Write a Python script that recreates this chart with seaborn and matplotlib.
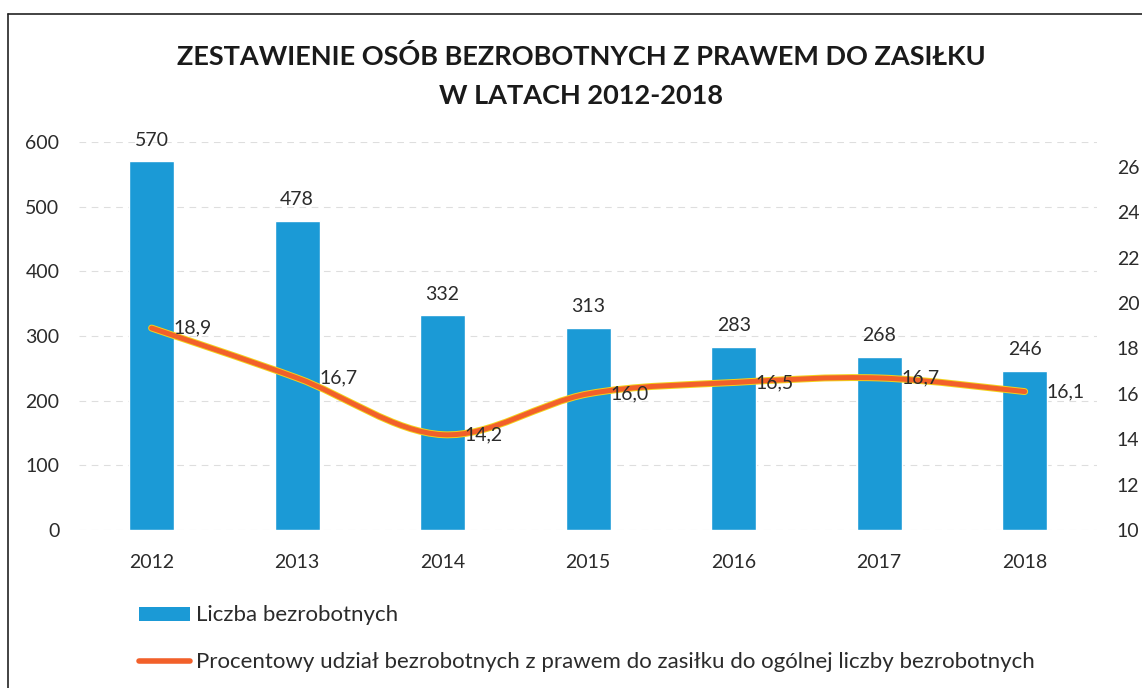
import matplotlib
matplotlib.use('Agg')
import matplotlib.pyplot as plt
from matplotlib.path import Path
from matplotlib.patches import PathPatch, Patch
from matplotlib.lines import Line2D
import seaborn as sns
import pandas as pd

years = ['2012', '2013', '2014', '2015', '2016', '2017', '2018']
unemployed = [570, 478, 332, 313, 283, 268, 246]
share_pct = [18.9, 16.7, 14.2, 16.0, 16.5, 16.7, 16.1]

bar_label = 'Liczba bezrobotnych'
line_label = 'Procentowy udział bezrobotnych z prawem do zasiłku do ogólnej liczby bezrobotnych'
title_1 = 'ZESTAWIENIE OSÓB BEZROBOTNYCH Z PRAWEM DO ZASIŁKU'
title_2 = 'W LATACH 2012-2018'

blue = '#1B9AD6'
orange = '#F2602A'
text_col = '#2b2b2b'

sns.set_style('white')
plt.rcParams['font.family'] = ['Lato', 'DejaVu Sans']

fig = plt.figure(figsize=(11.42, 6.88), dpi=100)
ax = fig.add_axes([0.069, 0.2297, 0.892, 0.5639])

df = pd.DataFrame({'Rok': years, 'Liczba': unemployed})
sns.barplot(data=df, x='Rok', y='Liczba', color=blue, saturation=1, width=0.31, ax=ax)
ax.set_ylim(0, 600)
ax.set_yticks(range(0, 601, 100))
ax.set_xlim(-0.5, len(years) - 0.5)
ax.set_xlabel('')
ax.set_ylabel('')
ax.grid(axis='y', color='#dedede', linestyle=(0, (6, 5)), linewidth=0.8)
ax.set_axisbelow(True)
for s in ax.spines.values():
    s.set_visible(False)
ax.tick_params(axis='y', length=0, pad=14, labelsize=14, labelcolor=text_col)
ax.tick_params(axis='x', length=0, pad=17, labelsize=14, labelcolor=text_col)

for i, v in enumerate(unemployed):
    ax.annotate(str(v), (i, v), xytext=(0, 9), textcoords='offset points',
                ha='center', va='bottom', fontsize=14, color=text_col,
                annotation_clip=False)

# secondary axis with smoothed line
ax2 = ax.twinx()
ax2.set_ylim(10, 27.1)
ax2.set_yticks(range(10, 27, 2))
for s in ax2.spines.values():
    s.set_visible(False)
ax2.tick_params(axis='y', length=0, pad=14, labelsize=14, labelcolor=text_col)
ax2.grid(False)

xs = list(range(len(share_pct)))
pts = list(zip(xs, share_pct))
verts = [pts[0]]
codes = [Path.MOVETO]
for i in range(len(pts) - 1):
    p0 = pts[i - 1] if i > 0 else pts[i]
    p1 = pts[i]
    p2 = pts[i + 1]
    p3 = pts[i + 2] if i + 2 < len(pts) else pts[i + 1]
    c1 = (p1[0] + (p2[0] - p0[0]) / 6, p1[1] + (p2[1] - p0[1]) / 6)
    c2 = (p2[0] - (p3[0] - p1[0]) / 6, p2[1] - (p3[1] - p1[1]) / 6)
    verts += [c1, c2, p2]
    codes += [Path.CURVE4] * 3
curve = Path(verts, codes)
ax2.add_patch(PathPatch(curve, facecolor='none', edgecolor='#F3D21B', lw=5.0, capstyle='round', zorder=3))
ax2.add_patch(PathPatch(curve, facecolor='none', edgecolor=orange, lw=3.6, capstyle='round', zorder=4))

for x, v in zip(xs, share_pct):
    ax2.annotate(f'{v:.1f}'.replace('.', ','), (x, v), xytext=(16, 0), textcoords='offset points',
                 ha='left', va='center', fontsize=14, color=text_col, zorder=5)

# title
fig.text(0.509, 0.918, title_1, ha='center', va='center', fontsize=19.5, fontweight='bold',
         color='#1a1a1a')
fig.text(0.509, 0.860, title_2, ha='center', va='center', fontsize=19.5, fontweight='bold',
         color='#1a1a1a')

# legend
handles = [Patch(facecolor=blue, edgecolor='none'),
           Line2D([0], [0], color=orange, lw=4)]
fig.legend(handles, [bar_label, line_label], loc='upper left', bbox_to_anchor=(0.122, 0.12),
           frameon=False, fontsize=16, handlelength=2.3, handleheight=0.6, handletextpad=0.25,
           labelspacing=1.2, borderpad=0, borderaxespad=0, labelcolor=text_col)

# outer frame
fig.add_artist(Line2D([0.007, 0.007], [0.0, 0.98], transform=fig.transFigure, color='#222222', lw=1.2))
fig.add_artist(Line2D([0.007, 1.0], [0.98, 0.98], transform=fig.transFigure, color='#222222', lw=1.2))

fig.savefig('out.png', dpi=100)
